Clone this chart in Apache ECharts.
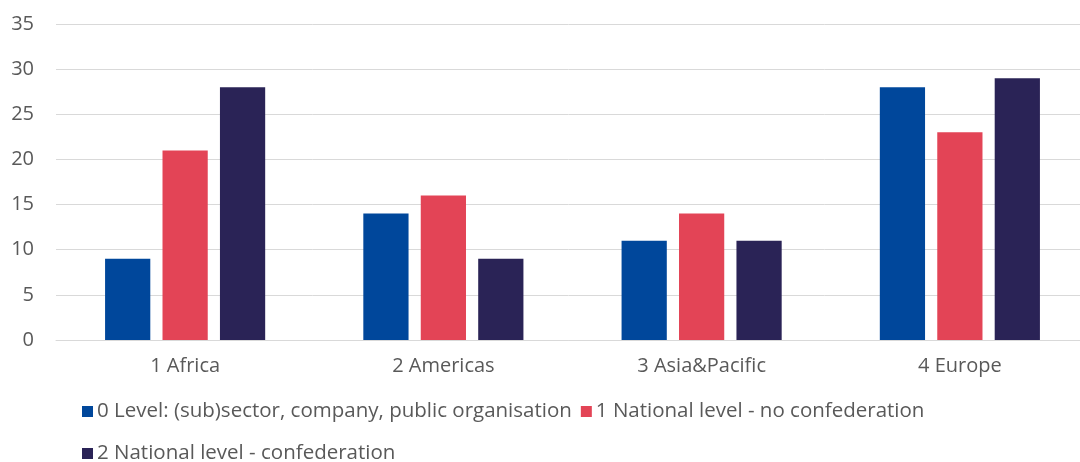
<!DOCTYPE html>
<html>
<head>
<meta charset="utf-8">
<script src="https://cdn.jsdelivr.net/npm/echarts@6/dist/echarts.min.js"></script>
<style>
  html, body { margin: 0; padding: 0; background: #ffffff; }
  #chart { width: 1080px; height: 462px; }
</style>
</head>
<body>
<div id="chart"></div>
<script>
// Regions on the category axis
const regions = ['1 Africa', '2 Americas', '3 Asia&Pacific', '4 Europe'];

// Series names and values per region
const seriesNames = [
  '0 Level: (sub)sector, company, public organisation',
  '1 National level - no confederation',
  '2 National level - confederation'
];
const levelCompany = [9, 14, 11, 28];
const levelNoConfed = [21, 16, 14, 23];
const levelConfed = [28, 9, 11, 29];

const colors = ['#00479b', '#e34456', '#2a2356'];
const fontFamily = '"Open Sans", "Noto Sans", sans-serif';
const textColor = '#595959';

const chart = echarts.init(document.getElementById('chart'), null, { renderer: 'canvas' });

const legendCommon = {
  orient: 'horizontal',
  icon: 'rect',
  itemWidth: 11,
  itemHeight: 11,
  itemGap: 9,
  textStyle: { color: textColor, fontSize: 20.5, fontFamily: fontFamily, padding: [0, 0, 0, -1] }
};

chart.setOption({
  animation: false,
  color: colors,
  // the plot area runs slightly past the right edge of the canvas
  grid: { left: 56, width: 1033, top: 24, bottom: 122, containLabel: false, outerBoundsMode: 'none' },
  legend: [
    Object.assign({}, legendCommon, { left: 77, top: 396, data: [seriesNames[0], seriesNames[1]] }),
    Object.assign({}, legendCommon, { left: 77, top: 438, data: [seriesNames[2]] })
  ],
  xAxis: {
    type: 'category',
    data: regions,
    axisLine: { show: true, lineStyle: { color: '#d9d9d9', width: 1 } },
    axisTick: { show: false },
    axisLabel: { color: textColor, fontSize: 20, fontFamily: fontFamily, margin: 16 }
  },
  yAxis: {
    type: 'value',
    min: 0,
    max: 35,
    interval: 5,
    axisLine: { show: false },
    axisTick: { show: false },
    splitLine: { lineStyle: { color: '#d9d9d9', width: 1 } },
    axisLabel: { color: textColor, fontSize: 20, fontFamily: fontFamily, margin: 22 }
  },
  series: [
    { name: seriesNames[0], type: 'bar', data: levelCompany, barGap: '27%', barCategoryGap: '38%' },
    { name: seriesNames[1], type: 'bar', data: levelNoConfed, barGap: '27%', barCategoryGap: '38%' },
    { name: seriesNames[2], type: 'bar', data: levelConfed, barGap: '27%', barCategoryGap: '38%' }
  ]
});
</script>
</body>
</html>
